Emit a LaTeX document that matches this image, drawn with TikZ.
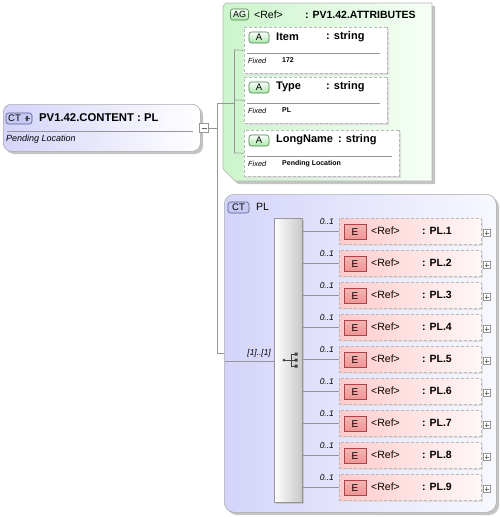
\documentclass[tikz,border=0pt]{standalone}
\usepackage{fontspec}
\setmainfont{Liberation Sans}
\usetikzlibrary{shapes.misc}
\definecolor{lavL}{RGB}{212,212,250}
\definecolor{lavR}{RGB}{248,248,255}
\definecolor{grnL}{RGB}{204,244,204}
\definecolor{grnR}{RGB}{246,255,246}
\definecolor{pnkL}{RGB}{255,204,204}
\definecolor{pnkR}{RGB}{255,247,247}
\definecolor{lineC}{RGB}{150,150,150}
\definecolor{shad}{RGB}{196,196,196}
\definecolor{shadL}{RGB}{222,222,222}
\definecolor{dashC}{RGB}{185,185,185}
\definecolor{ctB}{RGB}{200,200,245}
\definecolor{ctD}{RGB}{90,90,140}
\definecolor{agB}{RGB}{170,232,170}
\definecolor{agD}{RGB}{70,130,70}
\definecolor{eB}{RGB}{240,150,150}
\definecolor{eD}{RGB}{170,70,70}
\begin{document}
\begin{tikzpicture}[x=1pt,y=-1pt,
  conn/.style={draw=lineC, line width=0.7pt},
  badge/.style={rounded corners=2.5pt, inner sep=0pt, line width=0.6pt},
  ctbadge/.style={badge, draw=ctD, fill=ctB},
  agbadge/.style={badge, draw=agD, top color=white, bottom color=agB},
  ebadge/.style={draw=eD, inner sep=0pt, line width=0.6pt, top color=eB!70, bottom color=eB},
  elem/.style={draw=dashC, dash pattern=on 3pt off 2pt, line width=0.8pt, left color=pnkL, right color=pnkR, minimum width=142pt, minimum height=26pt, inner sep=0pt},
  attrshape/.style={chamfered rectangle, chamfered rectangle corners={north west,south west}, chamfered rectangle xsep=6pt, chamfered rectangle ysep=6pt, inner sep=0pt, minimum height=46pt},
  attr/.style={attrshape, draw=dashC, dash pattern=on 3pt off 2pt, line width=0.8pt, fill=white},
  pbox/.style={draw=lineC, fill=white, minimum size=7pt, inner sep=0pt, line width=0.5pt},
  bt/.style={font=\bfseries\fontsize{10.5}{11}\selectfont, inner sep=0pt, anchor=west},
  attxt/.style={font=\bfseries\fontsize{11}{12}\selectfont, inner sep=0pt, anchor=west},
  rt/.style={font=\fontsize{10.5}{11}\selectfont, inner sep=0pt, anchor=west},
  it/.style={font=\itshape\fontsize{8.4}{9}\selectfont, inner sep=0pt},
  fx/.style={font=\itshape\fontsize{7.4}{8}\selectfont, inner sep=0pt, anchor=west},
  fv/.style={font=\bfseries\fontsize{7}{8}\selectfont, inner sep=0pt, anchor=west}
]
\useasboundingbox (0,0) rectangle (499,517);

% ---------------- main complex type box
\fill[shad, rounded corners=8pt] (6,107) rectangle (203,154);
\node[draw=lineC!80, rounded corners=8pt, left color=lavL, right color=white, minimum width=197pt, minimum height=47pt, anchor=north west, inner sep=0pt, line width=0.6pt] (main) at (3,104) {};
\node[ctbadge, minimum width=26pt, minimum height=11pt] (mainbadge) at (19,118.5) {};
\node[font=\fontsize{9.5}{9}\selectfont, inner sep=0pt] (mainct) at (14.5,118.7) {CT};
\draw[black!75, line width=1.3pt] (24.5,118.5) -- (29.5,118.5) (27,116) -- (27,121);
\node[font=\bfseries\fontsize{11.3}{12}\selectfont, inner sep=0pt, anchor=west] (maintitle) at (39,118) {PV1.42.CONTENT : PL};
\draw[lineC] (7,131) -- (193,131);
\node[font=\itshape\fontsize{9}{10}\selectfont, inner sep=0pt, anchor=west] (maindoc) at (6,139) {Pending Location};
\node[pbox, minimum size=9pt] (col) at (204,128) {};
\draw[black!60, line width=0.5pt] (201.5,128) -- (206.5,128);

% junction coordinates
\coordinate (j) at (217,128);
\coordinate (jt) at (217,103);
\coordinate (jb) at (217,353);
\coordinate (pin) at (225,353);
\draw[conn] (col.east) -- (j);
\draw[conn] (jt) -- (jb);
\draw[conn] (jb) -- (pin);

% ---------------- attribute group
\fill[shad] (226,6) -- (435,6) -- (435,184) -- (238,184) -- (226,172) -- cycle;
\path[draw=lineC!70, line width=0.6pt, left color=grnL, right color=grnR] (226,3) -- (432,3) -- (432,181) -- (235,181) -- (223,169) -- (223,6) -- cycle;
\node[agbadge, minimum width=18pt, minimum height=11pt] (agbadge) at (239.5,14.5) {};
\node[font=\fontsize{9}{9}\selectfont, inner sep=0pt] (agt) at (239.5,14.7) {AG};
\node[rt] (agref) at (254,14.5) {<Ref>};
\node[bt] (agname) at (305,14.5) {: PV1.42.ATTRIBUTES};

\coordinate (av) at (234,103);
\coordinate (avt) at (234,50);
\coordinate (avb) at (234,153);
\draw[conn] (jt) -- (av);
\draw[conn] (avt) -- (avb);

% attributes
\foreach \nm/\ty/\w/\vl/\tx/\sx in {Item/27/143/172/276/326, Type/77/143/PL/276/326, LongName/130/155/Pending Location/276/338}{
  \node[attrshape, fill=shadL, minimum width=\w pt, anchor=north west] (ash\nm) at (246,\ty+2) {};
  \node[attr, minimum width=\w pt, anchor=north west] (a\nm) at (244,\ty) {};
  \node[agbadge, minimum width=20pt, minimum height=11pt] (ab\nm) at (259,\ty+10.5) {};
  \node[font=\fontsize{9.5}{9}\selectfont, inner sep=0pt] (abt\nm) at (259,\ty+10.7) {A};
  \node[attxt] (an\nm) at (\tx,\ty+10) {\nm};
  \node[attxt] (as\nm) at (\sx,\ty+10) {: string};
  \draw[lineC] (247,\ty+26) -- (244+\w-7,\ty+26);
  \node[fx] (af\nm) at (248,\ty+34) {Fixed};
  \node[fv] (av\nm) at (282,\ty+33.5) {\vl};
  \draw[conn] (234,\ty+23) -- (a\nm.west);
}

% ---------------- PL complex type
\fill[shad, rounded corners=10pt] (227,197) rectangle (499,515);
\node[draw=lineC!80, rounded corners=10pt, left color=lavL, right color=lavR, minimum width=272pt, minimum height=318pt, anchor=north west, inner sep=0pt, line width=0.6pt] (pl) at (224,194) {};
\node[ctbadge, minimum width=21pt, minimum height=11pt] (plbadge) at (238.5,207.5) {};
\node[font=\fontsize{9.5}{9}\selectfont, inner sep=0pt] (plct) at (238.5,207.7) {CT};
\node[rt] (pltitle) at (256,207) {PL};

% sequence
\fill[shad] (276,220) rectangle (304,504);
\node[draw=lineC, left color=white, right color=black!22, minimum width=28pt, minimum height=284pt, anchor=north west, inner sep=0pt, line width=0.6pt] (seq) at (274,218) {};
\coordinate (pin2) at (225,361);
\draw[conn] (pin2) -- (seq.west |- pin2);
\node[it, anchor=east] (mult) at (271,353) {[1]..[1]};
% sequence icon
\fill[black!75] (284,360) circle (1.5);
\draw[black!75, line width=0.7pt] (284,360) -- (291,360) (291,354) -- (291,366) (291,354) -- (296,354) (291,366) -- (296,366) (291,360) -- (296,360);
\fill[black!75] (294.5,352.5) rectangle (297.5,355.5) (294.5,358.5) rectangle (297.5,361.5) (294.5,364.5) rectangle (297.5,367.5);

% elements
\foreach \i in {1,...,9}{
  \pgfmathsetmacro\cy{231+32*(\i-1)}
  \fill[shadL] (341,\cy-11) rectangle (483,\cy+15);
  \node[elem, anchor=west] (e\i) at (339,\cy) {};
  \node[ebadge, minimum width=22pt, minimum height=15pt] (eb\i) at (355,\cy+0.5) {};
  \node[font=\fontsize{10}{10}\selectfont, inner sep=0pt] (ebt\i) at (355,\cy+1) {E};
  \node[rt] (er\i) at (371,\cy) {<Ref>};
  \node[bt] (en\i) at (422,\cy) {: PL.\i};
  \node[pbox] (ep\i) at (486.5,\cy+2) {};
  \draw[black!55, line width=0.4pt] (484.5,\cy+2) -- (488.5,\cy+2) (486.5,\cy) -- (486.5,\cy+4);
  \node[it, anchor=east] (em\i) at (334,\cy-9) {0..1};
  \draw[conn] (seq.east |- e\i.west) -- (e\i.west);
}
\end{tikzpicture}
\end{document}
